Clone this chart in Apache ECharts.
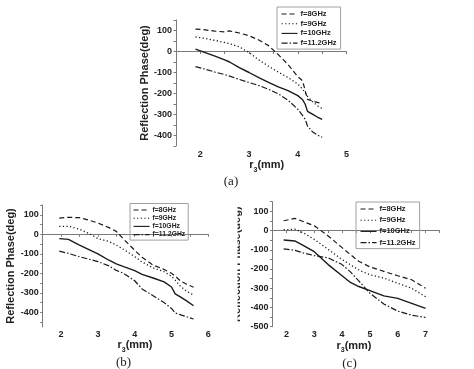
<!DOCTYPE html>
<html><head><meta charset="utf-8">
<script src="https://cdn.jsdelivr.net/npm/echarts@6/dist/echarts.min.js"></script>
<style>html,body{margin:0;padding:0;background:#fff}#c{width:474px;height:369px}</style>
</head><body><div id="c"></div>
<script>
// ---- data (a) ----
const rA = [1.9, 2.1, 2.3, 2.5, 2.6, 2.8, 3.0, 3.2, 3.4, 3.6, 3.8, 4.0, 4.1, 4.15, 4.2, 4.3, 4.4, 4.5];
const a8 = [107, 103, 97, 93, 98, 88, 75, 55, 28, -15, -62, -120, -140, -185, -228, -236, -242, -248];
const a9 = [69, 62, 53, 43, 37, 22, -5, -40, -70, -98, -124, -155, -180, -196, -214, -238, -258, -272];
const a10 = [11, -5, -22, -40, -50, -77, -100, -124, -147, -168, -186, -210, -230, -250, -285, -298, -312, -323];
const a11 = [-72, -84, -98, -110, -117, -133, -148, -162, -180, -202, -232, -275, -305, -322, -355, -382, -398, -408];
// ---- data (b) ----
const rB = [1.95, 2.2, 2.5, 2.8, 3.0, 3.3, 3.5, 3.7, 4.0, 4.2, 4.5, 4.8, 5.0, 5.1, 5.25, 5.4, 5.6];
const b8 = [83, 87, 85, 70, 58, 34, 15, -25, -82, -118, -158, -180, -200, -214, -240, -255, -271];
const b9 = [41, 41, 26, 0, -22, -37, -55, -78, -114, -142, -172, -192, -215, -235, -268, -290, -312];
const b10 = [-22, -26, -55, -82, -100, -133, -152, -166, -186, -205, -224, -244, -270, -305, -322, -340, -366];
const b11 = [-86, -98, -115, -130, -140, -162, -185, -200, -238, -280, -315, -350, -380, -403, -413, -422, -434];
// ---- data (c) ----
const rC = [1.9, 2.3, 2.6, 3.0, 3.5, 4.0, 4.3, 4.6, 5.0, 5.5, 6.0, 6.5, 7.0];
const c8 = [51, 63, 47, 25, -28, -89, -125, -160, -189, -212, -235, -256, -300];
const c9 = [4, 7, -11, -46, -98, -151, -178, -205, -230, -247, -274, -300, -344];
const c10 = [-49, -54, -77, -110, -177, -235, -270, -291, -312, -340, -353, -379, -405];
const c11 = [-95, -103, -116, -130, -142, -177, -215, -262, -326, -382, -419, -440, -452];
// ---- legend / tick labels ----
const names = ['f=8GHz', 'f=9GHz', 'f=10GHz', 'f=11.2GHz'];
const xLabelsA = [2, 3, 4, 5];
const xLabelsB = [2, 3, 4, 5, 6];
const xLabelsC = [2, 3, 4, 5, 6, 7];
const xTicksA = [1.5, 2, 2.5, 3, 3.5, 4, 4.5, 5];
const xTicksB = [1.5, 2, 2.5, 3, 3.5, 4, 4.5, 5, 5.5, 6];
const xTicksC = [1.5, 2, 2.5, 3, 3.5, 4, 4.5, 5, 5.5, 6, 6.5, 7, 7.5];
const yLabelsA = [-400, -300, -200, -100, 0, 100];
const yLabelsB = [-400, -300, -200, -100, 0, 100];
const yLabelsC = [-500, -400, -300, -200, -100, 0, 100];
const yTicksA = [-450, -400, -350, -300, -250, -200, -150, -100, -50, 0, 50, 100, 150];
const yTicksB = [-450, -400, -350, -300, -250, -200, -150, -100, -50, 0, 50, 100, 150];
const yTicksC = [-500, -450, -400, -350, -300, -250, -200, -150, -100, -50, 0, 50, 100, 150];
const captions = ['(a)', '(b)', '(c)'];

const TXT = '#222';
const AX = '#7a7a7a';
const FONT = 'Liberation Sans';
const lineStyles = [
  {type: [5, 3], width: 1.2},
  {type: [1.2, 2.4], width: 1.3},
  {type: 'solid', width: 1.4},
  {type: [6, 2, 1.5, 2], width: 1.2}
];
const zip = (xs, ys) => xs.map((x, i) => [x, ys[i]]);

const xName = '{m|r}{s|3}{m|(mm)}';
const nameRich = {
  m: {fontSize: 11, fontWeight: 'bold', fontFamily: FONT, color: TXT, lineHeight: 16, verticalAlign: 'middle'},
  s: {fontSize: 7, fontWeight: 'bold', fontFamily: FONT, color: TXT, lineHeight: 16, verticalAlign: 'bottom'}
};

function xAxis(grid, min, max, labels, ticks, margin, namePad, nameGap) {
  return {
    type: 'value', gridIndex: grid, min: min, max: max,
    name: xName, nameLocation: 'middle', nameGap: nameGap,
    nameTextStyle: {rich: nameRich, padding: namePad},
    axisLine: {lineStyle: {color: AX, width: 1}},
    axisTick: {show: true, length: 2.5, customValues: ticks, lineStyle: {color: AX}},
    axisLabel: {customValues: labels, margin: margin, fontSize: 9, fontWeight: 'bold', fontFamily: FONT, color: TXT},
    splitLine: {show: false}
  };
}
function yAxis(grid, min, max, labels, ticks, nameGap) {
  return {
    type: 'value', gridIndex: grid, min: min, max: max,
    name: 'Reflection Phase(deg)', nameLocation: 'middle', nameGap: nameGap,
    nameTextStyle: {fontSize: 11, fontWeight: 'bold', fontFamily: FONT, color: TXT},
    axisLine: {show: true, lineStyle: {color: AX, width: 1}},
    axisTick: {show: true, length: 2.5, customValues: ticks, lineStyle: {color: AX}},
    axisLabel: {customValues: labels, margin: 4, fontSize: 9, fontWeight: 'bold', fontFamily: FONT, color: TXT},
    splitLine: {show: false}
  };
}
function legend(left, top, fs, gap, pad) {
  return {
    data: names, left: left, top: top, orient: 'vertical',
    itemWidth: 16, itemHeight: 8, itemGap: gap, padding: pad,
    borderColor: '#a0a0a0', borderWidth: 1, selectedMode: false,
    itemStyle: {opacity: 0, borderWidth: 0},
    lineStyle: {width: 1.1},
    textStyle: {fontSize: fs, fontWeight: 'bold', fontFamily: FONT, color: TXT, padding: [0, 0, 0, -2]}
  };
}
const sets = [
  [rA, [a8, a9, a10, a11]],
  [rB, [b8, b9, b10, b11]],
  [rC, [c8, c9, c10, c11]]
];
const series = [];
sets.forEach((s, g) => {
  s[1].forEach((ys, k) => {
    series.push({
      type: 'line', name: names[k], xAxisIndex: g, yAxisIndex: g,
      data: zip(s[0], ys), symbol: 'none', smooth: false,
      lineStyle: Object.assign({color: '#1a1a1a'}, lineStyles[k]),
      itemStyle: {color: '#1a1a1a'}
    });
  });
});

const chart = echarts.init(document.getElementById('c'), null, {renderer: 'canvas'});
chart.setOption({
  backgroundColor: '#fff',
  animation: false,
  grid: [
    {left: 176, top: 20, width: 170.5, height: 126},
    {left: 42.7, top: 205, width: 165.6, height: 122},
    {left: 272.5, top: 201.7, width: 167, height: 125}
  ],
  xAxis: [
    xAxis(0, 1.5, 5, xLabelsA, xTicksA, 4, [0, 0, 0, 11], 9),
    xAxis(1, 1.5, 6, xLabelsB, xTicksB, 3, [0, 0, 0, 19], 9),
    xAxis(2, 1.5, 7.5, xLabelsC, xTicksC, 3.5, [0, 0, 0, -4], 3)
  ],
  yAxis: [
    yAxis(0, -450, 150, yLabelsA, yTicksA, 22),
    yAxis(1, -475, 150, yLabelsB, yTicksB, 24),
    yAxis(2, -500, 150, yLabelsC, yTicksC, 30)
  ],
  legend: [
    legend(277, 7, 7.5, 1.7, [3, 4, 2, 4]),
    legend(130, 203.5, 6.8, 1.2, [3, 3, 2, 3]),
    legend(356, 202, 7.5, 3.2, [3, 4, 2, 4])
  ],
  graphic: [
    {type: 'text', x: 231, y: 182, style: {text: captions[0], font: '13px "Liberation Serif"', fill: TXT, textAlign: 'center', textVerticalAlign: 'middle'}},
    {type: 'text', x: 123.5, y: 363, style: {text: captions[1], font: '13px "Liberation Serif"', fill: TXT, textAlign: 'center', textVerticalAlign: 'middle'}},
    {type: 'text', x: 349.5, y: 363.5, style: {text: captions[2], font: '13px "Liberation Serif"', fill: TXT, textAlign: 'center', textVerticalAlign: 'middle'}},
    {type: 'rect', z: 100, shape: {x: 224, y: 198, width: 13.5, height: 134}, style: {fill: '#fff'}}
  ],
  series: series
});
</script></body></html>
